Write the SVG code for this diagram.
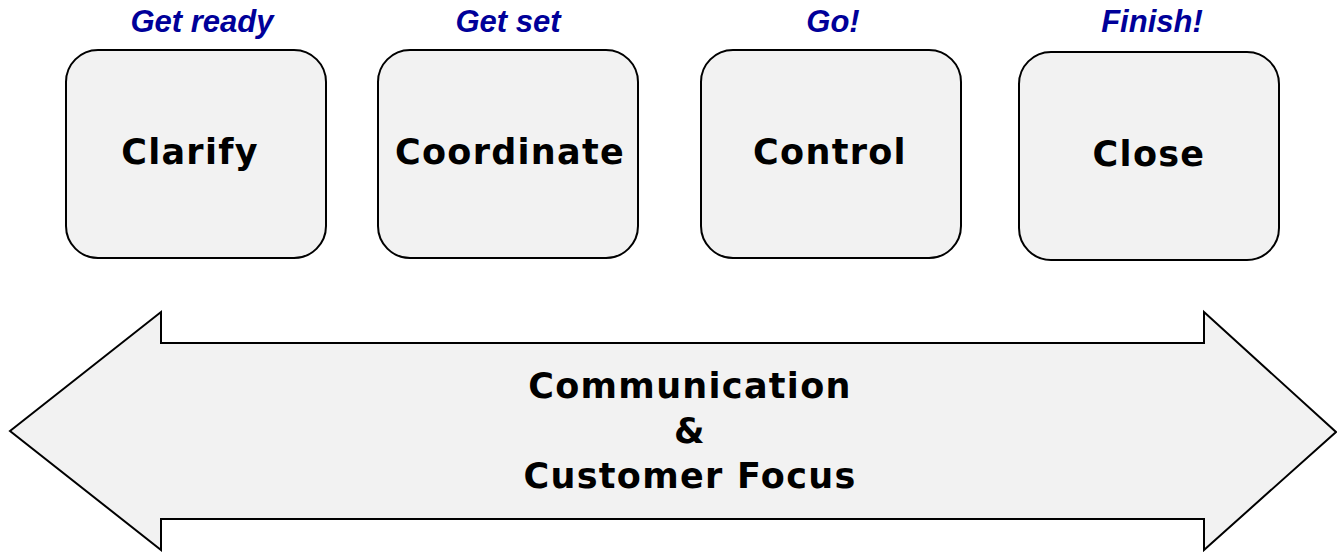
<svg xmlns="http://www.w3.org/2000/svg" width="1337" height="552" viewBox="0 0 1337 552">
<style>
.box{fill:#f2f2f2;stroke:#000;stroke-width:2}
.lbl{font-family:"DejaVu Sans","Verdana",sans-serif;font-weight:bold;font-size:35px;letter-spacing:1.3px;fill:#000;text-anchor:middle}
.phase{font-family:"Liberation Sans",Arial,sans-serif;font-weight:bold;font-style:italic;font-size:31px;fill:#000099;text-anchor:middle}
</style>
<rect width="1337" height="552" fill="#fff"/>
<g id="phase-labels">
<text class="phase" x="202" y="32">Get ready</text>
<text class="phase" x="508" y="32">Get set</text>
<text class="phase" x="833" y="32">Go!</text>
<text class="phase" x="1152" y="32">Finish!</text>
</g>
<g id="node-clarify"><rect class="box" x="66" y="50" width="260" height="208" rx="32"/><text class="lbl" x="190" y="164">Clarify</text></g>
<g id="node-coordinate"><rect class="box" x="378" y="50" width="260" height="208" rx="32"/><text class="lbl" x="510" y="164">Coordinate</text></g>
<g id="node-control"><rect class="box" x="701" y="50" width="260" height="208" rx="32"/><text class="lbl" x="830" y="164">Control</text></g>
<g id="node-close"><rect class="box" x="1019" y="52" width="260" height="208" rx="32"/><text class="lbl" x="1149" y="166">Close</text></g>
<g id="connectors">
<g id="communication-arrow">
<polygon class="box" points="10,431 161,312 161,343 1204,343 1204,312 1336,432 1204,550 1204,519 161,519 161,550"/>
<text class="lbl" x="690" y="398">Communication</text>
<text class="lbl" x="690" y="443">&amp;</text>
<text class="lbl" x="690" y="488">Customer Focus</text>
</g>
</g>
</svg>
